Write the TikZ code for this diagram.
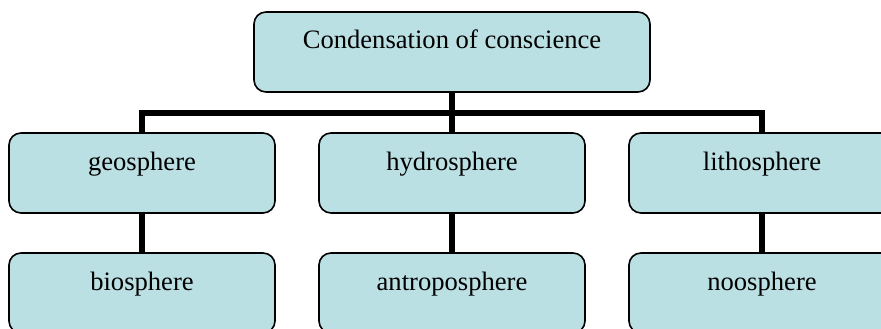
\documentclass[tikz,border=0pt]{standalone}
\usepackage{fontspec}
\setmainfont{Liberation Serif}
\usetikzlibrary{backgrounds}
\definecolor{boxfill}{RGB}{187,224,227}
\begin{document}
\begin{tikzpicture}[x=1pt,y=-1pt,
  sbox/.style={draw=black, line width=1.6pt, fill=boxfill, rounded corners=12pt,
    minimum width=266pt, minimum height=80pt, inner ysep=0pt, inner xsep=4pt,
    text height=37pt, text depth=43pt, font=\fontsize{26.6}{32}\selectfont},
  conn/.style={line width=5.5pt, black}]
\useasboundingbox (0,0) rectangle (881,329);
\clip (0,0) rectangle (881,329);
\node[sbox, minimum width=396pt] (top) at (452,52) {Condensation of conscience};
\node[sbox] (geo) at (142,173) {geosphere};
\node[sbox] (hydro) at (452,173) {hydrosphere};
\node[sbox] (litho) at (762,173) {lithosphere};
\node[sbox] (bio) at (142,293) {biosphere};
\node[sbox] (antro) at (452,293) {antroposphere};
\node[sbox] (noo) at (762,293) {noosphere};
\coordinate (busL) at (142,113);
\coordinate (busR) at (762,113);
\begin{scope}[on background layer]
\draw[conn] (top.south) -- (hydro.north);
\draw[conn] (geo.north) -- (busL) -- (busR) -- (litho.north);
\draw[conn] (geo.south) -- (bio.north);
\draw[conn] (hydro.south) -- (antro.north);
\draw[conn] (litho.south) -- (noo.north);
\end{scope}
\end{tikzpicture}
\end{document}
